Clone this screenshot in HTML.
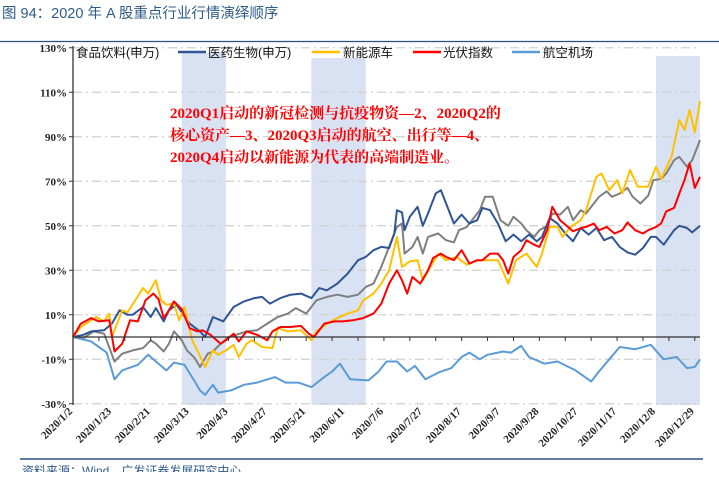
<!DOCTYPE html>
<html><head><meta charset="utf-8">
<style>
body{margin:0;background:#fff;width:719px;height:472px;overflow:hidden;font-family:"Liberation Sans","Noto Sans CJK SC",sans-serif;}
</style></head>
<body>
<svg id="chart" width="719" height="472" xmlns="http://www.w3.org/2000/svg">
<text x="2" y="18" font-size="14.5" fill="#2E5C8A" font-family="Liberation Sans, Noto Sans CJK SC, sans-serif">图 94：2020 年 A 股重点行业行情演绎顺序</text>
<line x1="0" y1="41.5" x2="719" y2="41.5" stroke="#2E4E8A" stroke-width="1.2"/>
<g id="bands"></g>
<g id="grid"></g>
<g id="series"></g>
<g id="axes"></g>
<g id="legend"></g>
<g font-family="Liberation Serif, Noto Serif CJK SC, serif" font-size="15" font-weight="bold" fill="#FF0000">
<text x="170" y="118">2020Q1启动的新冠检测与抗疫物资—2、2020Q2的</text>
<text x="170" y="140">核心资产—3、2020Q3启动的航空、出行等—4、</text>
<text x="170" y="162">2020Q4启动以新能源为代表的高端制造业。</text>
</g>
<line x1="20" y1="459" x2="703" y2="459" stroke="#2E4E8A" stroke-width="1.5"/>
<text x="22" y="475" font-size="12" fill="#2E5C8A">资料来源：Wind，广发证券发展研究中心</text>
</svg>
<script>
const yTicks=[130,110,90,70,50,30,10,-10,-30];
const xLabelDays=[0,15,30,45,60,75,90,105,120,135,150,165,180,195,210,225,240];
const xLabels=["2020/1/2","2020/1/23","2020/2/21","2020/3/13","2020/4/3","2020/4/27","2020/5/21","2020/6/11","2020/7/6","2020/7/27","2020/8/17","2020/9/7","2020/9/28","2020/10/27","2020/11/17","2020/12/8","2020/12/29"];
const bandStart=[42,92,225];
const bandEnd=[59,113,242];
const seriesNames=["食品饮料(申万)","医药生物(申万)","新能源车","光伏指数","航空机场"];
const seriesColors=["#7F7F7F","#2F5597","#FFC000","#FF0000","#5B9BD5"];
const foodDays=[0,4,8,12,16,19,23,27,30,32,35,37,39,42,44,47,49,52,54,57,60,63,67,71,75,79,83,86,90,94,98,102,106,110,113,116,119,122,125,127,128,131,133,135,137,141,144,147,149,152,154,157,159,162,165,168,170,173,175,178,180,183,185,188,191,193,196,198,201,203,206,208,211,214,216,219,222,224,227,229,232,234,237,239,242];
const foodVals=[0,-0.5,2.5,1.5,-11,-7.5,-6,-5,-1.5,-3,-6.5,-3,2.5,-1.5,-6,-9.5,-13.5,-7.5,-6.5,-3,0,1,2.5,3,6,9,10.5,13,10.5,16.5,18,19,18,19,22.5,24,31.5,40.5,49.5,51,37.5,40.5,45,37.5,45,46.5,43.5,42.5,48,49.5,52.5,57,63,63,52.5,50,54,51,48,45,48,50,55.5,55,58.5,52.5,57,55.5,60,63,65.5,63,64.5,67,63,60,63.5,70.5,71,73.5,79.5,81,76.5,79.5,88.5];
const mediDays=[0,4,7,12,15,18,21,23,27,30,32,35,37,40,42,45,49,51,54,56,58,62,66,70,73,76,80,84,88,92,95,98,102,106,110,113,116,119,122,124,125,127,128,130,133,135,137,140,142,144,147,150,153,156,158,161,164,167,170,173,176,179,181,184,187,190,193,196,199,202,205,208,211,214,217,220,223,225,228,232,234,237,239,242];
const mediVals=[0,1,2.5,3,6,12,10,10,13.5,9,13,7,12,14.5,11,6,2.5,0,9,8,7,13.5,16,17.5,18,15,17.5,19,19.5,17.5,22,21,24,28.5,34.5,36,39,40.5,40,46.5,57,56,48,54,58.5,50,55.5,64.5,66,60,51,55,51,52.5,58,57,51,43,46,43,46,43,45,53.5,51,46.5,43,49,46,49,43.5,45,40.5,38,37,40,45,45,41.5,48,50,49,47,50];
const nevDays=[0,3,7,9,12,14,15,19,21,24,27,29,32,34,36,39,41,43,46,48,51,54,56,59,62,64,67,69,73,77,79,83,88,92,94,98,102,106,110,112,116,119,122,125,127,130,133,135,138,141,144,148,152,156,160,164,168,171,175,179,181,184,187,189,192,196,198,202,204,207,210,212,215,218,222,225,227,231,234,236,238,240,242];
const nevVals=[0,4.5,7.5,9,7,10.5,0,12,11,16.5,22,19.5,25.5,16.5,14.5,15,7.5,13.5,-1.5,-6,-13.5,-6,-8,-6,-3.5,-9,-3,-1.5,-4.5,-5,4,2.5,3,-1.5,2.5,6,8.5,10.5,12,16.5,19.5,24,30,45,31.5,34,34.5,25.5,31.5,37.5,34.5,36,32.5,34.5,34.5,34.5,24,34.5,37.5,31.5,37.5,49.5,49.5,45,49.5,52.5,57,72,73.5,66,70.5,64.5,75,67.5,67.5,76.5,71,81,97.5,93,102,92,106];
const pvDays=[0,3,7,10,14,16,19,22,25,28,31,33,35,37,39,42,45,48,50,53,57,59,62,64,67,71,75,77,80,84,88,91,93,97,101,104,108,112,116,119,122,125,127,129,131,134,137,139,142,144,147,150,153,156,158,161,164,166,168,170,173,175,178,180,183,185,188,191,193,196,198,201,203,206,209,212,214,217,220,222,225,227,229,232,234,236,238,240,242];
const pvVals=[0,6,8.5,7,7.5,-6.5,-3,7.5,7,16.5,19.5,17,8.5,12,16,12.5,4,2.5,3,1,-3,-1.5,1.5,-2,2.5,1,-1.5,2.5,4.5,4.5,5,1.5,0,6,7,7,7.5,8.5,10.5,15,24,30,25.5,19.5,27,24,30,35.5,37.5,36,34.5,39,33,34.5,34.5,37.5,37.5,34.5,28.5,36,39,43.5,41.5,40.5,48,58.5,52.5,49.5,47.5,49,49.5,51,48,49.5,46.5,48,51.5,48,46.5,48,49.5,51,56.5,58,64.5,70.5,78,67,72];
const airDays=[0,7,13,16,19,25,29,32,36,39,43,47,49,51,54,56,61,66,71,78,82,87,92,97,100,103,107,114,118,121,125,129,132,136,141,146,150,153,157,160,166,169,173,176,182,187,194,200,203,207,211,217,223,228,233,237,240,242];
const airVals=[0,-2,-7,-19,-15,-12.5,-8,-11,-15,-11.5,-12.5,-20,-24,-26,-21.5,-25,-24,-21.5,-20.5,-18,-20.5,-20.5,-22.5,-18,-15.5,-12,-19,-19.5,-15.5,-11,-11,-15.5,-13,-19,-16,-14,-9,-7,-10,-8,-6.5,-7,-4,-9,-12,-11,-15,-20,-15.5,-10,-4.5,-5.5,-3.5,-10,-9,-14,-13.5,-10];
const allDays=[foodDays,mediDays,nevDays,pvDays,airDays];
const allVals=[foodVals,mediVals,nevVals,pvVals,airVals];

const NS="http://www.w3.org/2000/svg";
const X0=73,X1=700,Y0=337,PPU=2.225,DMAX=242;
function xs(d){return X0+(X1-X0)*d/DMAX;}
function ys(v){return Y0-v*PPU;}
function mk(tag,attrs,parent){const e=document.createElementNS(NS,tag);for(const k in attrs)e.setAttribute(k,attrs[k]);parent.appendChild(e);return e;}
const bands=document.getElementById('bands'),grid=document.getElementById('grid'),ser=document.getElementById('series'),axes=document.getElementById('axes'),leg=document.getElementById('legend');
const bandTops=[53,58,56];
for(let i=0;i<bandStart.length;i++){
 const r=mk('rect',{x:xs(bandStart[i]),y:bandTops[i],width:xs(bandEnd[i])-xs(bandStart[i]),height:405-bandTops[i],fill:'#D9E2F3'},bands);
 
 
}
yTicks.forEach(v=>{
 const l=mk('line',{x1:X0,x2:X1,y1:ys(v),y2:ys(v),stroke:'#CFCFCF','stroke-width':1.3,'stroke-dasharray':'9,4,2,4'},grid);
 
 
 const t=mk('text',{x:X0-6,y:ys(v)+4,'text-anchor':'end','font-size':11,'font-weight':'bold','font-family':'Liberation Serif, serif',fill:'#222'},axes);
 t.textContent=v+'%';
 
 
 mk('line',{x1:X0-4,x2:X0,y1:ys(v),y2:ys(v),stroke:'#333'},axes);
});
for(let s=0;s<5;s++){
 const d=allDays[s].map((dd,i)=>(i?'L':'M')+xs(dd).toFixed(1)+','+ys(allVals[s][i]).toFixed(1)).join('');
 const p=mk('path',{d:d,fill:'none',stroke:seriesColors[s],'stroke-width':2,'stroke-linejoin':'round'},ser);
 
 
}
const ya=mk('line',{x1:X0,x2:X0,y1:46,y2:405,stroke:'#333','stroke-width':1.3},axes);


const xa=mk('line',{x1:X0,x2:X1,y1:Y0,y2:Y0,stroke:'#333','stroke-width':1.3},axes);


for(let d=0;d<=DMAX;d+=10){mk('line',{x1:xs(d),x2:xs(d),y1:Y0,y2:Y0+4,stroke:'#333'},axes);}
xLabelDays.forEach((d,i)=>{
 const x=xs(d);
 const t=mk('text',{x:x,y:412,'text-anchor':'end','font-size':11,'font-weight':'bold','font-family':'Liberation Serif, serif',fill:'#222',transform:'rotate(-45 '+x+' 412)'},axes);
 t.textContent=xLabels[i];
 
 
});
const legX=[50,178,312,413,512];
const legTX=[76,208,343,443,543];
for(let i=0;i<5;i++){
 if(i>0){mk('line',{x1:legX[i],x2:legX[i]+28,y1:52,y2:52,stroke:seriesColors[i],'stroke-width':2.5},leg);}
 const t=mk('text',{x:legTX[i],y:57,'font-size':12.5,fill:'#111'},leg);
 t.textContent=seriesNames[i];
 
 
}
</script>
</body></html>
